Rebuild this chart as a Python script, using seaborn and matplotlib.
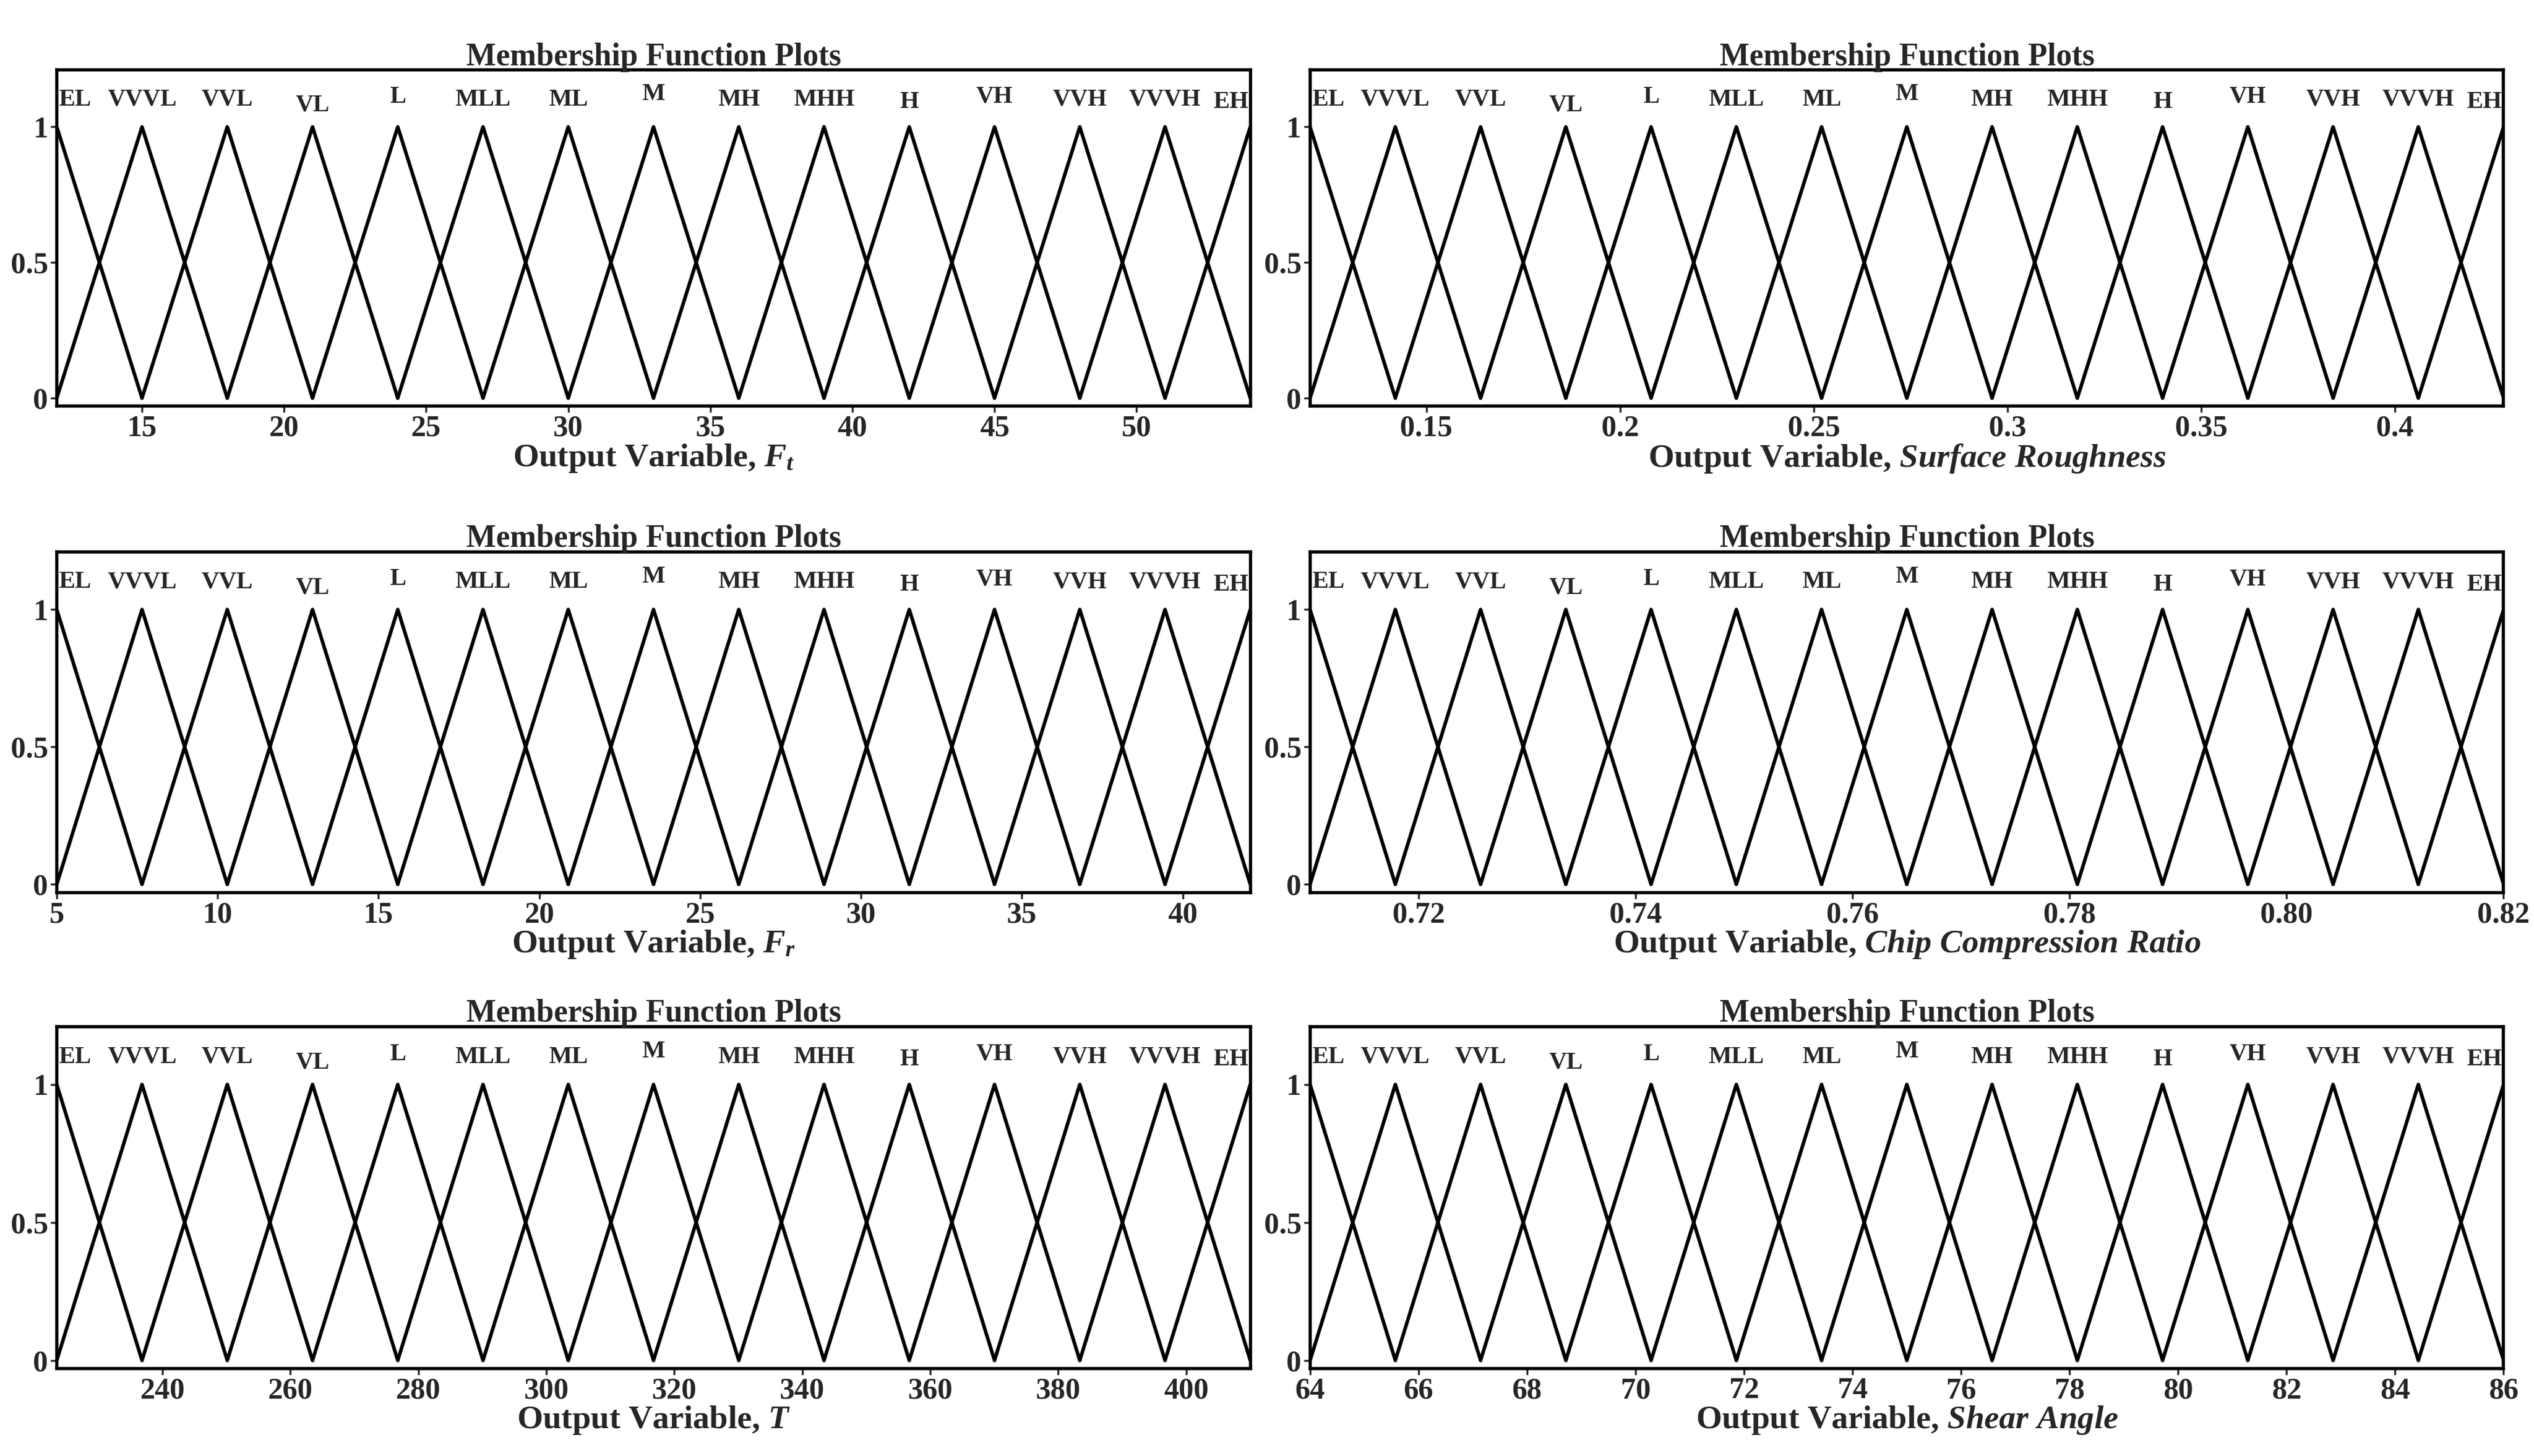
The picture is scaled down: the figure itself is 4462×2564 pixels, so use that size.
import numpy as np
import pandas as pd
import matplotlib
matplotlib.use('Agg')
import matplotlib.pyplot as plt
import seaborn as sns

sns.set_style('white')
plt.rcParams['font.family'] = ['Liberation Serif', 'DejaVu Serif']
plt.rcParams['font.weight'] = 'bold'
plt.rcParams['mathtext.fontset'] = 'custom'
plt.rcParams['mathtext.rm'] = 'Liberation Serif:bold'
plt.rcParams['mathtext.it'] = 'Liberation Serif:bold:italic'

mf_labels = ['EL', 'VVVL', 'VVL', 'VL', 'L', 'MLL', 'ML', 'M', 'MH', 'MHH', 'H', 'VH', 'VVH', 'VVVH', 'EH']
label_offsets = [0.0, 0.0, 0.0, -0.02, 0.01, 0.0, 0.0, 0.02, 0.0, 0.0, -0.01, 0.01, 0.0, 0.0, -0.01]

ft_range = (12.0, 54.0)
sr_range = (0.12, 0.428)
fr_range = (5.0, 42.1)
ccr_range = (0.71, 0.82)
t_range = (223.5, 410.0)
sa_range = (64.0, 86.0)

ft_ticks = [15, 20, 25, 30, 35, 40, 45, 50]
sr_ticks = [0.15, 0.2, 0.25, 0.3, 0.35, 0.4]
fr_ticks = [5, 10, 15, 20, 25, 30, 35, 40]
ccr_ticks = [0.72, 0.74, 0.76, 0.78, 0.80, 0.82]
t_ticks = [240, 260, 280, 300, 320, 340, 360, 380, 400]
sa_ticks = [64, 66, 68, 70, 72, 74, 76, 78, 80, 82, 84, 86]

panels = [
    (ft_range, ft_ticks, None, r'Output Variable, $F_t$'),
    (sr_range, sr_ticks, None, r'Output Variable, $Surface\ Roughness$'),
    (fr_range, fr_ticks, None, r'Output Variable, $F_r$'),
    (ccr_range, ccr_ticks, '{:.2f}', r'Output Variable, $Chip\ Compression\ Ratio$'),
    (t_range, t_ticks, None, r'Output Variable, $T$'),
    (sa_range, sa_ticks, None, r'Output Variable, $Shear\ Angle$'),
]

fig = plt.figure(figsize=(44.62, 25.64), dpi=100)
lefts = [0.0224, 0.517]
rows = [(0.721, 0.231), (0.387, 0.234), (0.060, 0.235)]

for i, (rng, ticks, fmt, xlabel) in enumerate(panels):
    left = lefts[i % 2]
    bottom, h = rows[i // 2]
    ax = fig.add_axes([left, bottom, 0.471, h])
    lo, hi = rng
    centers = np.linspace(lo, hi, len(mf_labels))
    step = centers[1] - centers[0]
    rows_df = []
    for name, c in zip(mf_labels, centers):
        for x, y in [(c - step, 0), (c, 1), (c + step, 0)]:
            rows_df.append({'mf': name, 'x': x, 'y': y})
    df = pd.DataFrame(rows_df)
    sns.lineplot(data=df, x='x', y='y', units='mf', estimator=None, sort=False,
                 color='black', linewidth=4.5, ax=ax)
    for name, c, off in zip(mf_labels, centers, label_offsets):
        ha = 'center'
        xc = c
        if name == 'EL':
            xc = c + step * 0.02
            ha = 'left'
        if name == 'EH':
            xc = c - step * 0.02
            ha = 'right'
        ax.text(xc, 1.06 + off, name, ha=ha, va='bottom', fontsize=31, fontweight='bold')
    ax.set_xlim(lo, hi)
    ax.set_ylim(-0.03, 1.21)
    ax.set_yticks([0, 0.5, 1])
    ax.set_yticklabels(['0', '0.5', '1'])
    ax.set_xticks(ticks)
    if fmt:
        ax.set_xticklabels([fmt.format(t) for t in ticks])
    else:
        ax.set_xticklabels([('%g' % t) for t in ticks])
    ax.tick_params(labelsize=38, direction='out', length=8, width=2.5, bottom=True, left=True, pad=3)
    ax.set_xlabel(xlabel, fontsize=42, fontweight='bold', labelpad=0)
    ax.set_ylabel('')
    ax.set_title('Membership Function Plots', fontsize=40, fontweight='bold', pad=6)
    for s in ax.spines.values():
        s.set_linewidth(4)
        s.set_color('black')

fig.savefig('out.png', dpi=100, facecolor='white')
